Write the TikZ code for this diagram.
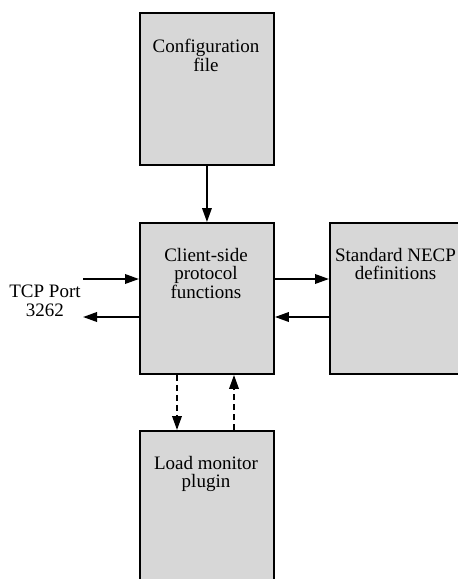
\documentclass[tikz,border=0pt]{standalone}
\usepackage{fontspec}
\setmainfont{Liberation Serif}
\usetikzlibrary{arrows.meta}
\definecolor{boxfill}{RGB}{215,215,215}
\begin{document}
\begin{tikzpicture}[x=1pt,y=-1pt,
  box/.style={draw=black, line width=1.9pt, fill=boxfill, minimum width=134pt, inner sep=0pt, anchor=north west},
  lbl/.style={align=center, inner sep=0pt, anchor=north, font=\fontsize{19}{18.5}\selectfont},
  arr/.style={line width=1.9pt, -{Triangle[length=14pt,width=9.5pt]}},
  dsh/.style={dash pattern=on 6pt off 4pt}]
\useasboundingbox (0,0) rectangle (458,579);
\node[box, minimum height=152pt] (cfg) at (139,12) {};
\node[box, minimum height=151pt] (ctr) at (139,222) {};
\node[box, minimum width=140pt, minimum height=151pt] (std) at (329,222) {};
\node[box, minimum height=165pt] (plg) at (139,430) {};
\node[lbl] (cfgt) at (206,39) {Configuration\\file};
\node[lbl] (ctrt) at (206,248) {Client-side\\protocol\\functions};
\node[lbl] (stdt) at (395.5,248) {Standard NECP\\definitions};
\node[lbl] (plgt) at (206,456) {Load monitor\\plugin};
\node[lbl] (tcp) at (45,285) {TCP Port\\3262};
\coordinate (tin) at (83,279);
\coordinate (tout) at (83,317);
\coordinate (dl) at (177,0);
\coordinate (dr) at (234,0);
\draw[arr] (cfg.south) -- (ctr.north);
\draw[arr] (tin) -- (tin -| ctr.west);
\draw[arr] (tout -| ctr.west) -- (tout);
\draw[arr] (tin -| ctr.east) -- (tin -| std.west);
\draw[arr] (tout -| std.west) -- (tout -| ctr.east);
\draw[arr, dsh] (dl |- ctr.south) -- (dl |- plg.north);
\draw[arr, dsh] (dr |- plg.north) -- (dr |- ctr.south);
\end{tikzpicture}
\end{document}
